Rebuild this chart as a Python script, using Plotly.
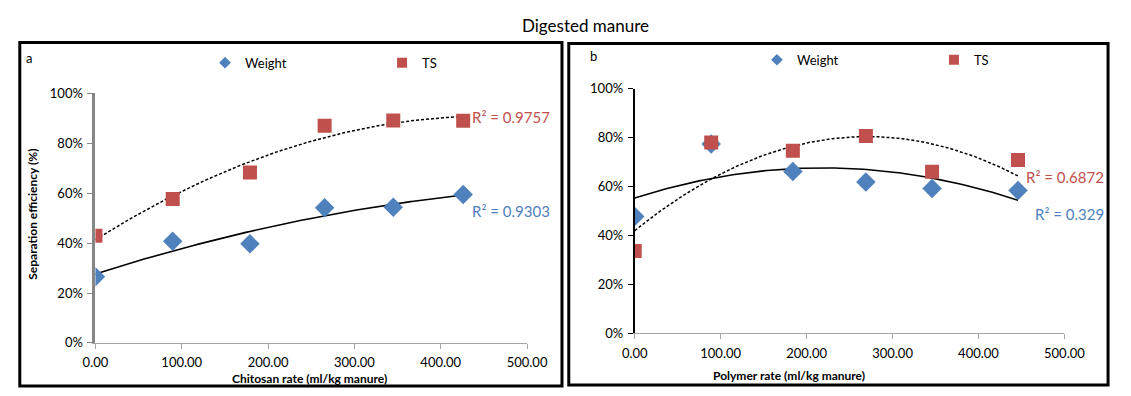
import numpy as np
import plotly.graph_objects as go

# Panel a: chitosan dosing
chitosan_rate = [0, 89.5, 179, 265.5, 345, 426]
chitosan_weight = [26.5, 40.7, 39.7, 54.2, 54.4, 59.5]
chitosan_ts = [42.9, 57.7, 68.3, 87.0, 89.1, 89.0]

# Panel b: polymer dosing
polymer_rate = [0, 89, 184, 269, 346, 446]
polymer_weight = [47.7, 77.4, 66.1, 61.8, 59.2, 58.4]
polymer_ts = [33.6, 78.0, 74.6, 80.6, 66.0, 70.8]

x_ticks = [0, 100, 200, 300, 400, 500]
y_ticks = [0, 20, 40, 60, 80, 100]
y_ticktext = ["0%", "20%", "40%", "60%", "80%", "100%"]

r2_labels = {"a_ts": "R² = 0.9757", "a_w": "R² = 0.9303",
             "b_ts": "R² = 0.6872", "b_w": "R² = 0.329"}

RED = "#C0504D"
BLUE = "#4F81BD"
FONT = "Lato"
W, H = 1131, 396


def px(x):
    return x / W


def py(y):
    return 1 - y / H


def quad_trend(xs, ys):
    coef = np.polyfit(xs, ys, 2)
    xx = np.linspace(min(xs), max(xs), 120)
    return xx, np.polyval(coef, xx)


fig = go.Figure()

panels = [
    ("x", "y", chitosan_rate, chitosan_weight, chitosan_ts, "legend"),
    ("x2", "y2", polymer_rate, polymer_weight, polymer_ts, "legend2"),
]
for xa, ya, xs, w, ts, lg in panels:
    # second-order polynomial trendlines
    tx, ty = quad_trend(xs, ts)
    fig.add_trace(go.Scatter(x=tx, y=ty, mode="lines", xaxis=xa, yaxis=ya,
                             line=dict(color="black", width=1.5, dash="3px,2px"),
                             showlegend=False, hoverinfo="skip"))
    wx, wy = quad_trend(xs, w)
    fig.add_trace(go.Scatter(x=wx, y=wy, mode="lines", xaxis=xa, yaxis=ya,
                             line=dict(color="black", width=1.6),
                             showlegend=False, hoverinfo="skip"))
    # measured points
    fig.add_trace(go.Scatter(x=xs, y=w, mode="markers", name="Weight",
                             xaxis=xa, yaxis=ya, showlegend=False,
                             marker=dict(symbol="diamond", size=15, color=BLUE)))
    fig.add_trace(go.Scatter(x=xs, y=ts, mode="markers", name="TS",
                             xaxis=xa, yaxis=ya, showlegend=False,
                             marker=dict(symbol="square", size=14, color=RED)))
    # legend entries with small symbols
    fig.add_trace(go.Scatter(x=[None], y=[None], mode="markers", name="Weight",
                             xaxis=xa, yaxis=ya, legend=lg,
                             marker=dict(symbol="diamond", size=9, color=BLUE)))
    fig.add_trace(go.Scatter(x=[None], y=[None], mode="markers", name="TS",
                             xaxis=xa, yaxis=ya, legend=lg,
                             marker=dict(symbol="square", size=10, color=RED)))

tickfont = dict(family=FONT, size=13, color="black")
xcommon = dict(range=[0, 500], tickvals=x_ticks,
               tickformat=".2f", showgrid=False, zeroline=False,
               showline=True, linecolor="#A6A6A6", linewidth=1,
               ticks="outside", ticklen=5, tickcolor="#A6A6A6",
               ticklabelstandoff=3, tickfont=tickfont)
ycommon = dict(range=[0, 100], tickvals=y_ticks, ticktext=y_ticktext,
               tickmode="array", showgrid=False, zeroline=False,
               showline=True, ticks="outside", ticklen=5,
               ticklabelstandoff=2, tickfont=tickfont)

legend_common = dict(orientation="h", yanchor="middle", xanchor="left",
                     entrywidth=132, itemsizing="trace",
                     font=dict(family=FONT, size=13, color="black"),
                     bgcolor="rgba(0,0,0,0)")

fig.update_layout(
    width=W, height=H, margin=dict(l=0, r=0, t=0, b=0),
    paper_bgcolor="white", plot_bgcolor="white",
    font=dict(family=FONT, size=13, color="black"),
    xaxis=dict(domain=[px(85), px(530)], anchor="y", **xcommon),
    yaxis=dict(domain=[py(349), py(89)], anchor="x",
               linecolor="#868686", linewidth=3, tickcolor="#868686",
               **ycommon),
    xaxis2=dict(domain=[px(641), px(1084)], anchor="y2", **xcommon),
    yaxis2=dict(domain=[py(339), py(84)], anchor="x2",
                linecolor="black", linewidth=2, tickcolor="black",
                **ycommon),
    legend=dict(x=px(198), y=py(57), **legend_common),
    legend2=dict(x=px(767), y=py(54), **legend_common),
    showlegend=True,
)

# Panel frames
fig.add_shape(type="rect", xref="paper", yref="paper",
              x0=px(7), x1=px(566), y0=py(394), y1=py(36),
              line=dict(color="black", width=3))
fig.add_shape(type="rect", xref="paper", yref="paper",
              x0=px(573), x1=px(1129), y0=py(393), y1=py(37),
              line=dict(color="black", width=3))

ann = [
    dict(text="Digested manure", x=px(590), y=py(18), size=17, color="black"),
    dict(text="a", x=px(16), y=py(52), size=13, color="black"),
    dict(text="b", x=px(599), y=py(50), size=13, color="black"),
    dict(text="<b>Separation efficiency (%)</b>", x=px(20), y=py(215),
         size=12, color="black", textangle=-90),
    dict(text="<b>Chitosan rate (ml/kg manure)</b>", x=px(306), y=py(386),
         size=12, color="black"),
    dict(text="<b>Polymer rate (ml/kg manure)</b>", x=px(800), y=py(383),
         size=12, color="black"),
    dict(text=r2_labels["a_ts"], x=px(513), y=py(114), size=15, color=RED),
    dict(text=r2_labels["a_w"], x=px(513), y=py(212), size=15, color=BLUE),
    dict(text=r2_labels["b_ts"], x=px(1085), y=py(176), size=15, color=RED),
    dict(text=r2_labels["b_w"], x=px(1089), y=py(215), size=15, color=BLUE),
]
for a in ann:
    fig.add_annotation(text=a["text"], x=a["x"], y=a["y"],
                       xref="paper", yref="paper", showarrow=False,
                       xanchor="center", yanchor="middle",
                       textangle=a.get("textangle", 0),
                       font=dict(family=FONT, size=a["size"], color=a["color"]))

fig.write_html("out.html")
